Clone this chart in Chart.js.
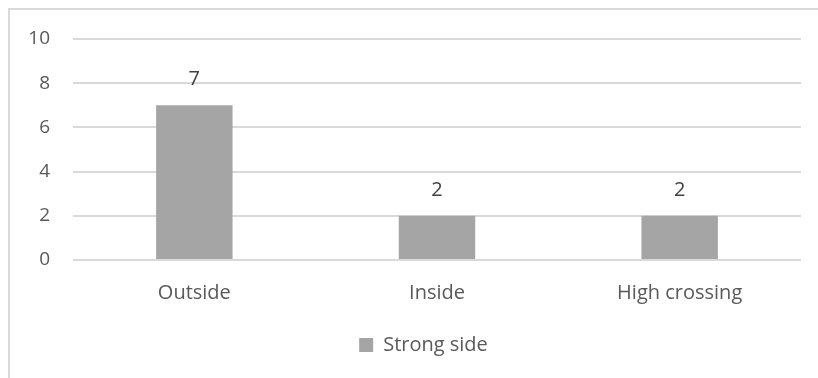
<!DOCTYPE html>
<html>
<head>
<meta charset="utf-8">
<script src="https://cdn.jsdelivr.net/npm/chart.js@4/dist/chart.umd.min.js"></script>
<style>
  html, body { margin: 0; padding: 0; background: #fff; }
  #wrap { position: relative; width: 818px; height: 378px; }
  #frame {
    position: absolute; left: 8px; top: 8px; right: 0; bottom: 0;
    border-top: 2px solid #d9d9d9; border-left: 2px solid #d9d9d9;
  }
  canvas { position: absolute; left: 0; top: 0; }
</style>
</head>
<body>
<div id="wrap">
  <div id="frame"></div>
  <canvas id="chart" width="818" height="378"></canvas>
</div>
<script>
// strong side entries by zone
const categories = ["Outside", "Inside", "High crossing"];
const strongSide = [7, 2, 2];
const yTicks = [0, 2, 4, 6, 8, 10];

const textColor = "#595959";
const fontFamily = "'Open Sans', sans-serif";

// value labels above each bar
const barLabels = {
  id: "barLabels",
  afterDatasetsDraw(chart) {
    const ctx = chart.ctx;
    const meta = chart.getDatasetMeta(0);
    ctx.save();
    ctx.fillStyle = "#404040";
    ctx.font = "20px " + fontFamily;
    ctx.textAlign = "center";
    ctx.textBaseline = "middle";
    meta.data.forEach((bar, i) => {
      ctx.fillText(String(strongSide[i]), bar.x, bar.y - 26);
    });
    ctx.restore();
  }
};

// nudge the legend a little right, under the plot
const legendShift = {
  id: "legendShift",
  afterLayout(chart) {
    if (chart.legend) chart.legend.left += 36;
  }
};

new Chart(document.getElementById("chart"), {
  type: "bar",
  data: {
    labels: categories,
    datasets: [{
      label: "Strong side",
      data: strongSide,
      backgroundColor: "#a5a5a5",
      categoryPercentage: 1,
      barPercentage: 0.315
    }]
  },
  options: {
    responsive: false,
    animation: false,
    layout: { padding: { left: 10, right: 17, top: 39, bottom: 13 } },
    scales: {
      x: {
        grid: { display: false },
        border: { display: false },
        ticks: { color: textColor, font: { family: fontFamily, size: 20 }, padding: 13 },
        afterFit(scale) { scale.height = 67; }
      },
      y: {
        min: 0,
        max: 10,
        afterBuildTicks(scale) { scale.ticks = yTicks.map(v => ({ value: v })); },
        grid: { color: "#d9d9d9", lineWidth: 2, drawTicks: false },
        border: { display: false },
        ticks: { color: textColor, font: { family: fontFamily, size: 19 }, padding: 23 },
        afterFit(scale) { scale.width = 63; }
      }
    },
    plugins: {
      tooltip: { enabled: false },
      legend: {
        position: "bottom",
        labels: {
          color: textColor,
          font: { family: fontFamily, size: 20 },
          boxWidth: 14,
          boxHeight: 14,
          padding: 8
        }
      }
    }
  },
  plugins: [barLabels, legendShift]
});
</script>
</body>
</html>
